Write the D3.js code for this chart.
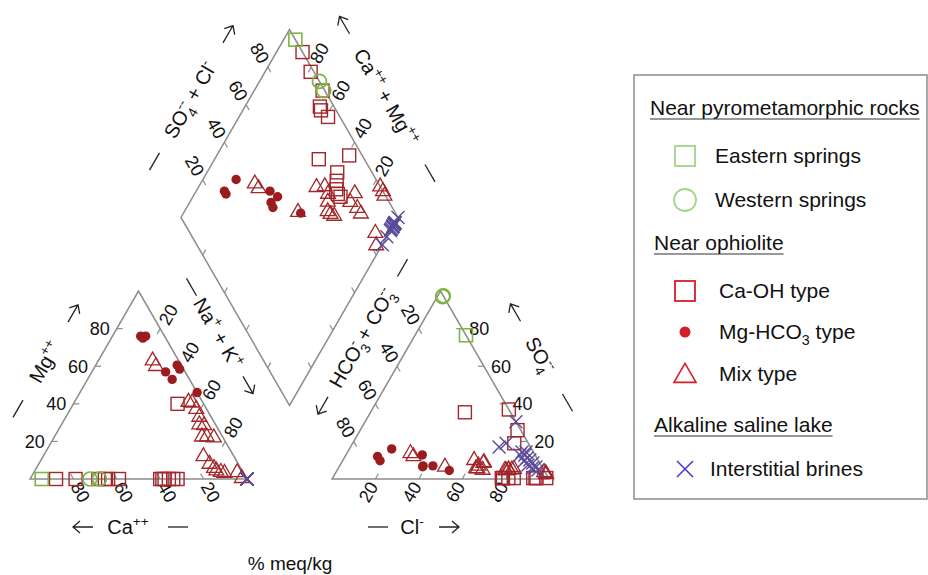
<!DOCTYPE html>
<html>
<head>
<meta charset="utf-8">
<script src="https://cdn.jsdelivr.net/npm/d3@7"></script>
<style>
body { margin: 0; background: #fff; }
text { font-family: "Liberation Sans", Arial, sans-serif; fill: #111; }
</style>
</head>
<body>
<script>
// each sample: [Ca, Mg, Na+K, HCO3+CO3, SO4, Cl] in % meq/kg
var easternSprings = [[94.6, 0, 5.4, 0, 76.5, 23.5]];
var westernSprings = [[72.4, 0, 27.6, 0, 97.5, 2.5], [68, 0, 32, 0.5, 97, 2.5]];
var caOH = [
  [88, 0, 12, 0, 37, 63], [79, 0, 21, 1.5, 26, 72.5], [68.5, 0, 31.5, 1, 0.5, 98.5],
  [65.5, 0, 34.5, 6.5, 19, 74.5], [64, 0, 36, 7, 0.5, 92.5], [59, 0, 41, 5.5, 0.5, 94],
  [12, 40, 48, 21, 35.5, 43.5], [39, 0, 61, 6, 0.5, 93.5], [40, 0, 60, 16, 0.5, 83.5],
  [38, 0, 62, 18.5, 0.5, 81], [36, 0, 64, 21, 0.5, 78.5], [34, 0, 66, 21.5, 0.5, 78],
  [32, 0, 68, 21, 0.5, 78.5]
];
var mgHCO3 = [
  [11, 76, 13, 73, 12, 15], [10.5, 75, 14.5, 73, 9.7, 17.3], [8.7, 76, 15.3, 64.5, 16, 19.5],
  [9, 57, 34, 52, 12.8, 35.2], [8, 53, 39, 50, 7, 43], [1.9, 60.6, 37.5, 54.5, 7, 38.5],
  [1.8, 58.5, 39.7, 55, 6.5, 38.5], [0, 46, 54, 43.7, 4.5, 51.8]
];
var mixType = [
  [12, 63, 25, 57, 13.7, 29.3], [12, 60, 28, 56.5, 12, 31.5], [6.5, 41, 52.5, 44.7, 6.5, 48.8],
  [5, 40.6, 54.4, 29.5, 10, 60.5], [4.8, 37.2, 58, 25.5, 8.9, 65.6], [5.5, 33, 61.5, 26, 8.5, 65.5],
  [7.5, 29, 63.5, 28.2, 4.8, 67], [5.5, 28.5, 66, 30.8, 5.7, 63.5], [9.5, 22.5, 68, 30.2, 5.5, 64.3],
  [7.3, 22.5, 70.2, 29, 7, 64], [4.3, 22, 73.7, 13.5, 5.3, 81.2], [14.1, 12, 73.9, 17.9, 4.8, 77.3],
  [13.3, 8, 78.7, 16.3, 4.8, 78.9], [12.3, 5.8, 81.9, 16.1, 5, 78.9], [11.9, 4.5, 83.6, 0, 2.5, 97.5],
  [10.2, 3.7, 86.1, 0, 3, 97], [8.8, 3.2, 88, 0.5, 3.5, 96], [2.8, 3.5, 93.7, 14.6, 5, 80.4],
  [2.2, 0.4, 97.4, 17.5, 4.5, 78]
];
var brines = [
  [0, 0, 100, 0, 30.5, 69.5], [0, 0, 100, 14.5, 17, 68.5], [0, 0, 100, 10.3, 19, 70.7],
  [0, 0, 100, 5.2, 14.4, 80.4], [0, 0, 100, 4.7, 12.8, 82.5], [0, 0, 100, 4.5, 11.2, 84.3],
  [0, 0, 100, 3.8, 10.1, 86.1], [0, 0, 100, 3.2, 8.5, 88.3], [0, 0, 100, 2.8, 6.4, 90.8],
  [0, 0, 100, 6.7, 9.6, 83.7], [0, 0, 100, 6, 7.4, 86.6], [0, 0, 100, 4.8, 5.9, 89.3],
  [0, 0, 100, 7, 12.8, 80.2], [0, 0, 100, 2.7, 4.8, 92.5], [0, 0, 100, 3.4, 14.4, 82.2]
];
var tickValues = [20, 40, 60, 80];
var legendHeads = ["Near pyrometamorphic rocks", "Near ophiolite", "Alkaline saline lake"];
var legendNames = ["Eastern springs", "Western springs", "Ca-OH type", "Mg-HCO3 type", "Mix type", "Interstitial brines"];

var w = 928, h = 575;
var S = 217, s60 = Math.sqrt(3) / 2;
var side = d3.scaleLinear().domain([0, 100]).range([0, S]);
var baseY = 479, x0L = 30, gap = 85, x0R = x0L + S + gap;
var Bx = x0L + S + gap / 2, By = baseY - gap * s60;

var red = "#a3262a", green = "#7db544", purple = "#5b4b9b";

function leftXY(d) { return [x0L + side(d[2]) + side(d[1]) / 2, baseY - side(d[1]) * s60]; }
function rightXY(d) { return [x0R + side(d[5]) + side(d[4]) / 2, baseY - side(d[4]) * s60]; }
function diamondXY(d) {
  var a = side(d[4] + d[5]), c = side(d[0] + d[1]);
  return [Bx + (a - c) / 2, By - (a + c) * s60];
}

var svg = d3.select("body").append("svg").attr("width", w).attr("height", h);

// outlines
var outline = [
  [leftXY([100, 0, 0]), leftXY([0, 100, 0]), leftXY([0, 0, 100])],
  [rightXY([0, 0, 0, 100, 0, 0]), rightXY([0, 0, 0, 0, 100, 0]), rightXY([0, 0, 0, 0, 0, 100])],
  [diamondXY([0, 0, 100, 100, 0, 0]), diamondXY([100, 0, 0, 100, 0, 0]), diamondXY([100, 0, 0, 0, 100, 0]), diamondXY([0, 0, 100, 0, 100, 0])]
];
svg.selectAll("path.outline").data(outline).enter().append("path")
  .attr("class", "outline")
  .attr("d", function(p) { return d3.line()(p) + "Z"; })
  .attr("fill", "none").attr("stroke", "#8c8c8c").attr("stroke-width", 1.5);

// axes: point on edge, inward tick direction, label offset, rotation, anchor
var axes = [
  {pt: function(v) { return leftXY([100 - v, v, 0]); }, tin: [1, 0], lout: [-7, 0], rot: 0, anchor: "end"},
  {pt: function(v) { return leftXY([v, 0, 100 - v]); }, tin: [-0.5, -s60], lout: [7, 13], rot: 60, anchor: "middle"},
  {pt: function(v) { return leftXY([0, 100 - v, v]); }, tin: [-0.5, s60], lout: [8, -14], rot: -60, anchor: "middle"},
  {pt: function(v) { return rightXY([0, 0, 0, 100 - v, 0, v]); }, tin: [0.5, -s60], lout: [-7, 13], rot: -60, anchor: "middle"},
  {pt: function(v) { return rightXY([0, 0, 0, 0, v, 100 - v]); }, tin: [-1, 0], lout: [7, 0], rot: 0, anchor: "start"},
  {pt: function(v) { return rightXY([0, 0, 0, v, 100 - v, 0]); }, tin: [0.5, s60], lout: [-8, -14], rot: 60, anchor: "middle"},
  {pt: function(v) { return diamondXY([100, 0, 0, 100 - v, v, 0]); }, tin: [0.5, s60], lout: [-8, -14], rot: 60, anchor: "middle"},
  {pt: function(v) { return diamondXY([v, 0, 100 - v, 0, 100, 0]); }, tin: [-0.5, s60], lout: [8, -14], rot: -60, anchor: "middle"},
  {pt: function(v) { return diamondXY([v, 0, 100 - v, 100, 0, 0]); }, tin: [0.5, -s60], lout: null},
  {pt: function(v) { return diamondXY([0, 0, 100, 100 - v, v, 0]); }, tin: [-0.5, -s60], lout: null}
];
var tl = 6;
axes.forEach(function(ax) {
  var g = svg.append("g");
  tickValues.forEach(function(v) {
    var p = ax.pt(v);
    g.append("line").attr("x1", p[0]).attr("y1", p[1])
      .attr("x2", p[0] + ax.tin[0] * tl).attr("y2", p[1] + ax.tin[1] * tl)
      .attr("stroke", "#8c8c8c").attr("stroke-width", 1.2);
    if (ax.lout) {
      var lx = p[0] + ax.lout[0], ly = p[1] + ax.lout[1];
      g.append("text").attr("x", lx).attr("y", ly).attr("dy", "0.35em")
        .attr("text-anchor", ax.anchor).attr("font-size", 18)
        .attr("transform", "rotate(" + ax.rot + "," + lx + "," + ly + ")")
        .text(v);
    }
  });
});

function rich(sel, parts, fs) {
  var cur = 0;
  parts.forEach(function(pp) {
    var t = pp[0], k = pp[1];
    var target = (k === "sup" || k === "ss") ? -0.42 * fs : (k === "sub" ? 0.3 * fs : 0);
    var sp = sel.append("tspan").attr("dy", target - cur).text(t)
      .attr("font-size", k === "n" ? fs : fs * 0.68);
    if (k === "ss") sp.attr("dx", -0.68 * fs * 0.556);
    cur = target;
  });
}

// mark kinds: "dash", "right" arrow, "left" arrow
var titles = [
  {c: [45, 362], rot: -60, parts: [["Mg", "n"], ["++", "sup"]], marks: [["dash", -54], ["right", 56]]},
  {c: [218, 333], rot: 60, parts: [["Na", "n"], ["+", "sup"], [" + K", "n"], ["+", "sup"]], marks: [["dash", -53], ["right", 60]]},
  {c: [128, 527], rot: 0, parts: [["Ca", "n"], ["++", "sup"]], marks: [["left", -45], ["dash", 50]]},
  {c: [412, 527], rot: 0, parts: [["Cl", "n"], ["-", "sup"]], marks: [["dash", -34], ["right", 37]]},
  {c: [362, 338], rot: -60, parts: [["HCO", "n"], ["3", "sub"], ["-", "ss"], [" + CO", "n"], ["3", "sub"], ["--", "ss"]], marks: [["left", -78], ["dash", 81]]},
  {c: [540, 355], rot: 60, parts: [["SO", "n"], ["4", "sub"], ["--", "ss"]], marks: [["left", -49], ["dash", 55]]},
  {c: [190, 100], rot: -60, parts: [["SO", "n"], ["4", "sub"], ["--", "ss"], [" + Cl", "n"], ["-", "sup"]], marks: [["dash", -71], ["right", 76]]},
  {c: [386, 97], rot: 60, parts: [["Ca", "n"], ["++", "sup"], [" + Mg", "n"], ["++", "sup"]], marks: [["left", -83], ["dash", 88]]}
];
titles.forEach(function(t) {
  var g = svg.append("g").attr("transform", "translate(" + t.c[0] + "," + t.c[1] + ") rotate(" + t.rot + ")");
  var tx = g.append("text").attr("text-anchor", "middle").attr("y", 7).attr("font-size", 20);
  rich(tx, t.parts, 20);
  t.marks.forEach(function(m) {
    var x = m[1], d;
    if (m[0] === "dash") d = "M" + (x - 10) + ",0H" + (x + 10);
    else if (m[0] === "right") d = "M" + (x - 10) + ",0H" + (x + 10) + "M" + (x + 3) + ",-6L" + (x + 10) + ",0L" + (x + 3) + ",6";
    else d = "M" + (x + 10) + ",0H" + (x - 10) + "M" + (x - 3) + ",-6L" + (x - 10) + ",0L" + (x - 3) + ",6";
    g.append("path").attr("d", d).attr("fill", "none").attr("stroke", "#222").attr("stroke-width", 1.3);
  });
});

svg.append("text").attr("x", 290).attr("y", 570).attr("text-anchor", "middle")
  .attr("font-size", 19).text("% meq/kg");

// markers
var tri = d3.symbol().type(d3.symbolTriangle).size(95);
function drawSet(data, kind, color, sw) {
  var layout = [leftXY, rightXY, diamondXY];
  layout.forEach(function(f) {
    data.forEach(function(d) {
      var p = f(d);
      var g = svg.append("g").attr("transform", "translate(" + p[0] + "," + p[1] + ")");
      if (kind === "square") {
        g.append("rect").attr("x", -6.5).attr("y", -6.5).attr("width", 13).attr("height", 13)
          .attr("fill", "none").attr("stroke", color).attr("stroke-width", sw);
      } else if (kind === "circle") {
        g.append("circle").attr("r", 7).attr("fill", "none").attr("stroke", color).attr("stroke-width", sw);
      } else if (kind === "dot") {
        g.append("circle").attr("r", 4.7).attr("fill", color);
      } else if (kind === "tri") {
        g.append("path").attr("d", tri()).attr("fill", "none").attr("stroke", color).attr("stroke-width", sw);
      } else {
        g.append("path").attr("d", "M-6.5,-6.5L6.5,6.5M-6.5,6.5L6.5,-6.5").attr("stroke", color).attr("stroke-width", sw);
      }
    });
  });
}
drawSet(caOH, "square", red, 1.4);
drawSet(mixType, "tri", red, 1.3);
drawSet(mgHCO3, "dot", "#9b1c1f", 1);
drawSet(brines, "x", purple, 1.4);
drawSet(easternSprings, "square", green, 1.6);
drawSet(westernSprings, "circle", green, 1.7);

// legend
var lg = svg.append("g");
lg.append("rect").attr("x", 634).attr("y", 75).attr("width", 293).attr("height", 424)
  .attr("fill", "none").attr("stroke", "#8c8c8c").attr("stroke-width", 1.5);
var heads = [[650, 115], [654, 250], [654, 432]];
legendHeads.forEach(function(t, i) {
  var tx = lg.append("text").attr("x", heads[i][0]).attr("y", heads[i][1]).attr("font-size", 21).text(t);
  var len = tx.node().getComputedTextLength();
  lg.append("line").attr("x1", heads[i][0]).attr("x2", heads[i][0] + len)
    .attr("y1", heads[i][1] + 4).attr("y2", heads[i][1] + 4).attr("stroke", "#333").attr("stroke-width", 1.2);
});
var items = [
  {kind: "square", color: "#a3d48a", y: 156, tx: 715},
  {kind: "circle", color: "#a3d48a", y: 200, tx: 715},
  {kind: "square", color: "#d51f26", y: 291, tx: 719},
  {kind: "dot", color: "#d51f26", y: 332, tx: 719},
  {kind: "tri", color: "#d51f26", y: 374, tx: 719},
  {kind: "x", color: "#4a2fd0", y: 469, tx: 710}
];
items.forEach(function(it, i) {
  var g = lg.append("g").attr("transform", "translate(" + 685 + "," + it.y + ")");
  if (it.kind === "square") {
    g.append("rect").attr("x", -10).attr("y", -10).attr("width", 20).attr("height", 20)
      .attr("fill", "none").attr("stroke", it.color).attr("stroke-width", 1.8);
  } else if (it.kind === "circle") {
    g.append("circle").attr("r", 11).attr("fill", "none").attr("stroke", it.color).attr("stroke-width", 1.8);
  } else if (it.kind === "dot") {
    g.append("circle").attr("r", 5.5).attr("fill", it.color);
  } else if (it.kind === "tri") {
    g.append("path").attr("d", d3.symbol().type(d3.symbolTriangle).size(210)()).attr("transform", "translate(0,2)")
      .attr("fill", "none").attr("stroke", it.color).attr("stroke-width", 1.6);
  } else {
    g.append("path").attr("d", "M-8,-8L8,8M-8,8L8,-8").attr("stroke", it.color).attr("stroke-width", 1.5);
  }
  var tx = lg.append("text").attr("x", it.tx).attr("y", it.y + 7).attr("font-size", 21);
  if (i === 3) {
    rich(tx, [["Mg-HCO", "n"], ["3", "sub"], [" type", "n"]], 21);
  } else {
    tx.text(legendNames[i]);
  }
});
</script>
</body>
</html>
